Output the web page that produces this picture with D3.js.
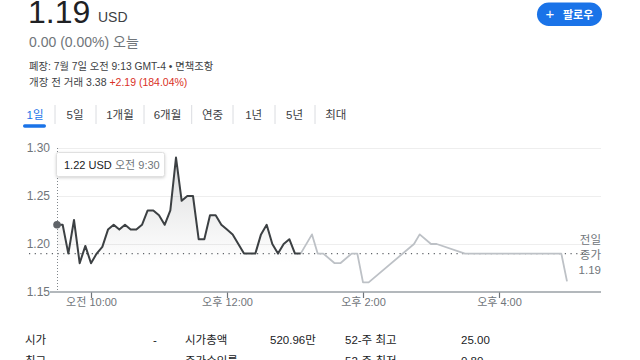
<!DOCTYPE html>
<html><head><meta charset="utf-8">
<script src="https://cdn.jsdelivr.net/npm/d3@7"></script>
<style>
html,body{margin:0;padding:0;background:#fff;width:640px;height:360px;overflow:hidden;}
svg{display:block;font-family:Arial,"Liberation Sans","Noto Sans CJK KR",sans-serif;}
</style></head><body>
<svg id="c" width="640" height="360"></svg>
<script>
// ---- data ----
const sessionTimes = ["9:30","9:35","9:40","9:45","9:50","9:55","10:00","10:05","10:10","10:15","10:20","10:25","10:30","10:35","10:40","10:45","10:50","10:55","11:00","11:05","11:10","11:15","11:20","11:25","11:30","11:35","11:40","11:45","11:50","11:55","12:00","12:05","12:10","12:15","12:20","12:25","12:30","12:35","12:40","12:45","12:50","12:55","13:00","13:05"];
const sessionValues = [1.22,1.22,1.19,1.225,1.18,1.198,1.18,1.19,1.197,1.215,1.22,1.215,1.22,1.215,1.215,1.22,1.235,1.235,1.23,1.22,1.235,1.29,1.245,1.25,1.25,1.205,1.205,1.23,1.23,1.22,1.215,1.21,1.20,1.19,1.19,1.19,1.21,1.22,1.20,1.19,1.20,1.205,1.19,1.19];
const laterTimes = ["13:05","13:15","13:20","13:25","13:35","13:40","13:50","13:55","14:00","14:05","14:45","14:50","15:00","15:05","15:30","16:55","17:00"];
const laterValues = [1.19,1.21,1.19,1.19,1.18,1.18,1.19,1.19,1.16,1.16,1.20,1.21,1.20,1.20,1.19,1.19,1.161];
const yTicks = [1.15,1.20,1.25,1.30];
const xTickTimes = ["10:00","12:00","14:00","16:00"];
const xTickLabels = ["오전 10:00","오후 12:00","오후 2:00","오후 4:00"];
const xDomainTimes = ["9:30","17:30"];
const prevClose = 1.19;
const tabs = ["1일","5일","1개월","6개월","연중","1년","5년","최대"];
const statsRow1 = ["시가","-","시가총액","520.96만","52-주 최고","25.00"];
const statsRow2 = ["최고","","주가수익률","","52-주 최저","0.80"];

// ---- helpers ----
const toMin = s => { const [h,m] = s.split(":").map(Number); return h*60+m; };
const svg = d3.select("#c");
const grayTxt = "#70757a", darkTxt = "#202124";

// ---- header ----
svg.append("text").attr("x",28).attr("y",23).attr("font-size",32).attr("fill",darkTxt).text("1.19");
svg.append("text").attr("x",98).attr("y",22).attr("font-size",14).attr("fill","#3c4043").text("USD");
svg.append("text").attr("x",29).attr("y",47).attr("font-size",14).attr("fill",grayTxt).text("0.00 (0.00%) 오늘");
svg.append("text").attr("x",29).attr("y",70).attr("font-size",10.3).attr("fill","#3c4043").text("폐장: 7월 7일 오전 9:13 GMT-4 • 면책조항");
const pre = svg.append("text").attr("x",29).attr("y",86).attr("font-size",10.5).attr("fill","#3c4043");
pre.append("tspan").text("개장 전 거래 3.38 ");
pre.append("tspan").attr("fill","#d93025").text("+2.19 (184.04%)");

// follow button
svg.append("rect").attr("x",537).attr("y",2.5).attr("width",65).attr("height",23.5).attr("rx",11.75).attr("fill","#1a73e8");
svg.append("text").attr("x",550).attr("y",19).attr("font-size",15).attr("fill","#fff").attr("text-anchor","middle").text("+");
svg.append("text").attr("x",563).attr("y",18.5).attr("font-size",11).attr("font-weight","bold").attr("fill","#fff").text("팔로우");

// ---- tabs ----
const tabX = [35,75,120,167.5,212.5,253.7,294.5,335.8];
tabs.forEach((t,i)=>{
  svg.append("text").attr("x",tabX[i]).attr("y",119).attr("font-size",11.5).attr("text-anchor","middle")
    .attr("fill", i===0 ? "#1a73e8" : "#3c4043").text(t);
});
[55,96,144,191.7,233,275,315].forEach(x=>{
  svg.append("line").attr("x1",x).attr("x2",x).attr("y1",105).attr("y2",124).attr("stroke","#dadce0").attr("stroke-width",1);
});
svg.append("rect").attr("x",23).attr("y",124.3).attr("width",23).attr("height",3.4).attr("rx",1.7).attr("fill","#1a73e8");

// ---- chart ----
const x = d3.scaleLinear().domain(xDomainTimes.map(toMin)).range([57,601]);
const y = d3.scaleLinear().domain([1.15,1.30]).range([292,148]);

const sess = sessionTimes.map((t,i)=>({t:toMin(t), v:sessionValues[i]}));
const later = laterTimes.map((t,i)=>({t:toMin(t), v:laterValues[i]}));

// gridlines
const grid = svg.append("g").attr("transform",`translate(${x.range()[0]},0)`)
  .call(d3.axisLeft(y).tickValues(yTicks.slice(1)).tickSize(-(x.range()[1]-x.range()[0])).tickFormat(""));
grid.select(".domain").remove();
grid.selectAll("line").attr("stroke","#eeeeee").attr("stroke-width",1);

// y labels
const yAx = svg.append("g").attr("transform",`translate(${x.range()[0]-7},0)`)
  .call(d3.axisLeft(y).tickValues(yTicks).tickSize(0).tickFormat(d3.format(".2f")));
yAx.select(".domain").remove();
yAx.selectAll("text").attr("font-size",12).attr("fill",grayTxt).attr("font-family","Arial,'Liberation Sans',sans-serif").attr("dy","0.32em").attr("x",0);

// area gradient
const defs = svg.append("defs");
const grad = defs.append("linearGradient").attr("id","g1").attr("x1",0).attr("x2",0)
  .attr("gradientUnits","userSpaceOnUse").attr("y1",y(1.29)).attr("y2",y(1.18));
grad.append("stop").attr("offset",0).attr("stop-color","#3c4043").attr("stop-opacity",0.18);
grad.append("stop").attr("offset",1).attr("stop-color","#3c4043").attr("stop-opacity",0.0);

const area = d3.area().x(d=>x(d.t)).y0(y(1.18)).y1(d=>y(d.v));
svg.append("path").datum(sess).attr("d",area).attr("fill","url(#g1)");

// previous close dotted line
svg.append("line").attr("x1",29).attr("x2",x(toMin("17:15"))).attr("y1",y(prevClose)).attr("y2",y(prevClose))
  .attr("stroke","#5f6368").attr("stroke-width",1.2).attr("stroke-dasharray","1.2,4.5");

// hover crosshair
svg.append("line").attr("x1",x(sess[0].t)+0.5).attr("x2",x(sess[0].t)+0.5).attr("y1",y(1.30)).attr("y2",y(1.15))
  .attr("stroke","#80868b").attr("stroke-width",1).attr("stroke-dasharray","1,2");

// x axis
const xAx = svg.append("g").attr("transform",`translate(0,${y(1.15)})`)
  .call(d3.axisBottom(x).tickValues(xTickTimes.map(toMin)).tickSize(6).tickFormat((d,i)=>xTickLabels[i]));
xAx.select(".domain").remove();
xAx.selectAll("line").attr("stroke","#70757a").attr("stroke-width",1.2);
xAx.selectAll("text").attr("font-size",11).attr("fill",grayTxt).attr("dy","0.9em").attr("y",4)
  .attr("font-family","Arial,'Liberation Sans','Noto Sans CJK KR',sans-serif");
svg.append("line").attr("x1",x.range()[0]-7).attr("x2",x.range()[1]).attr("y1",y(1.15)).attr("y2",y(1.15))
  .attr("stroke","#9aa0a6").attr("stroke-width",1.5);

// lines
const line = d3.line().x(d=>x(d.t)).y(d=>y(d.v));
svg.append("path").datum(later).attr("d",line).attr("fill","none").attr("stroke","#bdc1c6").attr("stroke-width",1.8).attr("stroke-linejoin","round");
svg.append("path").datum(sess).attr("d",line).attr("fill","none").attr("stroke","#3c4043").attr("stroke-width",2).attr("stroke-linejoin","round");

// hover dot
svg.append("circle").attr("cx",x(sess[0].t)).attr("cy",y(sess[0].v)).attr("r",3.8).attr("fill","#5f6368");

// tooltip
const tip = svg.append("g");
tip.append("rect").attr("x",56.5).attr("y",152.5).attr("width",108).attr("height",24).attr("rx",2)
  .attr("fill","#fff").attr("stroke","#e0e0e0").attr("stroke-width",1)
  .style("filter","drop-shadow(0px 1px 1.5px rgba(0,0,0,0.18))");
tip.append("text").attr("x",64).attr("y",168.5).attr("font-size",11).attr("fill",darkTxt).text("1.22 USD");
tip.append("text").attr("x",115).attr("y",168.5).attr("font-size",11).attr("fill",grayTxt).text("오전 9:30");

// prev close label
["전일","종가",d3.format(".2f")(prevClose)].forEach((t,i)=>{
  svg.append("text").attr("x",601).attr("y",y(prevClose)-9.5+i*15).attr("font-size",11.5).attr("fill",grayTxt)
    .attr("text-anchor","end").text(t);
});

// ---- stats ----
const statX = [25,153,185,270,345,461];
[statsRow1,statsRow2].forEach((row,r)=>{
  row.forEach((t,i)=>{
    svg.append("text").attr("x",statX[i]).attr("y",344+r*21).attr("font-size",11.5).attr("fill",darkTxt).text(t);
  });
});
</script>
</body></html>
